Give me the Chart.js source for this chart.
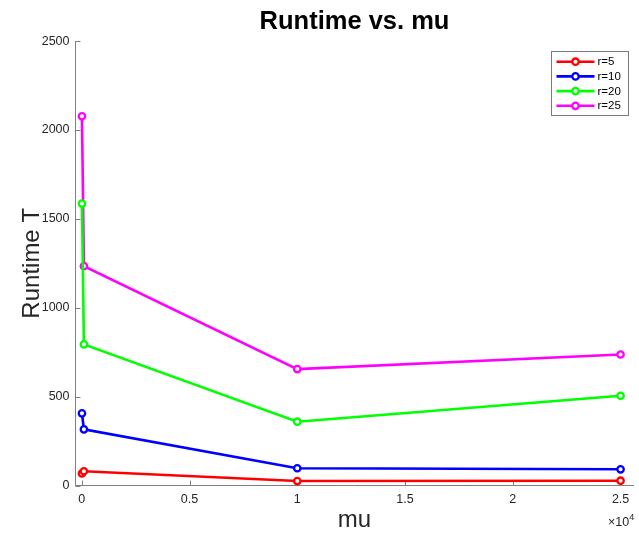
<!DOCTYPE html>
<html><head><meta charset="utf-8">
<script src="https://cdn.jsdelivr.net/npm/chart.js@4"></script>
<style>html,body{margin:0;padding:0;background:#fff;} canvas{display:block;}</style>
</head><body>
<canvas id="c" width="639" height="536"></canvas>
<script>
const mu = [10, 100, 10000, 25000];
const seriesLabels = ['r=5', 'r=10', 'r=20', 'r=25'];
const r5 = [68, 80, 25, 27];
const r10 = [406, 316, 97, 91];
const r20 = [1586, 794, 359, 505];
const r25 = [2077, 1234, 655, 737];
const seriesColors = ['#ff0000', '#0000ff', '#00ff00', '#ff00ff'];
const xTicks = [0, 5000, 10000, 15000, 20000, 25000];
const yTicks = [0, 500, 1000, 1500, 2000, 2500];
const titleText = 'Runtime vs. mu';
const xTitle = 'mu';
const yTitle = 'Runtime T';

const FONT = '"Liberation Sans", Arial, Helvetica, sans-serif';
const series = [r5, r10, r20, r25];

const datasets = series.map((vals, i) => ({
  label: seriesLabels[i],
  data: mu.map((m, j) => ({x: m, y: vals[j]})),
  borderColor: seriesColors[i],
  backgroundColor: '#ffffff',
  pointBackgroundColor: '#ffffff',
  pointBorderColor: seriesColors[i],
  borderWidth: 2.6,
  pointRadius: 3.2,
  pointBorderWidth: 2.3,
  pointHoverRadius: 3.2,
  tension: 0,
  clip: false
}));

const decor = {
  id: 'decor',
  beforeDatasetsDraw(chart) {
    const ctx = chart.ctx, xs = chart.scales.x, ys = chart.scales.y, a = chart.chartArea;
    ctx.save();
    ctx.strokeStyle = '#808080';
    ctx.lineWidth = 1;
    ctx.beginPath();
    xTicks.forEach(v => {
      const px = Math.round(xs.getPixelForValue(v)) + 0.5;
      ctx.moveTo(px, a.bottom); ctx.lineTo(px, a.bottom - 5);
    });
    yTicks.forEach(v => {
      const py = Math.round(ys.getPixelForValue(v)) + 0.5;
      ctx.moveTo(a.left, py); ctx.lineTo(a.left + 5, py);
    });
    ctx.stroke();
    ctx.restore();
  },
  afterDraw(chart) {
    const ctx = chart.ctx;
    ctx.save();
    // x multiplier
    ctx.fillStyle = '#262626';
    ctx.textBaseline = 'alphabetic';
    ctx.textAlign = 'left';
    ctx.font = '12.5px ' + FONT;
    const base = '\u00d710';
    ctx.fillText(base, 608, 526);
    const w = ctx.measureText(base).width;
    ctx.font = '9px ' + FONT;
    ctx.fillText('4', 608 + w, 520);
    // legend
    const bx = 551.5, by = 51.5, bw = 77, bh = 64;
    ctx.fillStyle = '#ffffff';
    ctx.fillRect(bx, by, bw, bh);
    ctx.strokeStyle = '#7a7a7a';
    ctx.lineWidth = 1;
    ctx.strokeRect(bx, by, bw, bh);
    chart.data.datasets.forEach((ds, i) => {
      const y = 61.7 + i * 14.7;
      ctx.strokeStyle = ds.borderColor;
      ctx.lineWidth = 2.6;
      ctx.beginPath();
      ctx.moveTo(556.5, y); ctx.lineTo(594.5, y);
      ctx.stroke();
      ctx.beginPath();
      ctx.arc(575.5, y, 3.2, 0, Math.PI * 2);
      ctx.fillStyle = '#ffffff';
      ctx.fill();
      ctx.lineWidth = 2.3;
      ctx.stroke();
      ctx.fillStyle = '#000000';
      ctx.font = '11.5px ' + FONT;
      ctx.textBaseline = 'middle';
      ctx.fillText(ds.label, 597.5, y + 0.5);
    });
    ctx.restore();
  }
};

new Chart(document.getElementById('c'), {
  type: 'line',
  data: {datasets},
  options: {
    responsive: false,
    devicePixelRatio: 1,
    animation: false,
    events: [],
    layout: {padding: {left: 0, right: 3, top: 0, bottom: 0}},
    plugins: {
      legend: {display: false},
      tooltip: {enabled: false},
      title: {
        display: true,
        fullSize: false,
        text: titleText,
        color: '#000000',
        font: {family: FONT, size: 25.5, weight: 'bold'},
        padding: {top: 7, bottom: 3.5}
      }
    },
    scales: {
      x: {
        type: 'linear',
        min: -290,
        max: 25600,
        afterBuildTicks: s => { s.ticks = xTicks.map(v => ({value: v})); },
        afterFit: s => { s.height = 50.5; },
        grid: {display: false, drawTicks: false},
        border: {display: true, color: '#808080', width: 1},
        ticks: {
          color: '#262626',
          font: {family: FONT, size: 12.5},
          padding: 7,
          maxRotation: 0,
          autoSkip: false,
          callback: v => String(Math.round(v / 1000) / 10)
        },
        title: {
          display: true,
          text: xTitle,
          color: '#262626',
          font: {family: FONT, size: 24},
          padding: {top: 0, bottom: 1}
        }
      },
      y: {
        type: 'linear',
        min: 0,
        max: 2500,
        afterBuildTicks: s => { s.ticks = yTicks.map(v => ({value: v})); },
        afterFit: s => { s.width = 75.5; },
        grid: {display: false, drawTicks: false},
        border: {display: true, color: '#808080', width: 1},
        ticks: {
          color: '#262626',
          font: {family: FONT, size: 12.5},
          padding: 6,
          autoSkip: false,
          callback: v => String(v)
        },
        title: {
          display: true,
          text: yTitle,
          color: '#262626',
          font: {family: FONT, size: 24},
          padding: {top: 17.6, bottom: 0}
        }
      }
    }
  },
  plugins: [decor]
});
</script>
</body></html>
